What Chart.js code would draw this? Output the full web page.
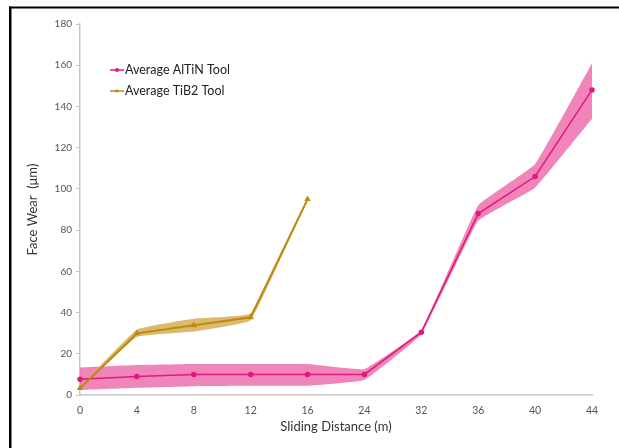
<!DOCTYPE html>
<html>
<head>
<meta charset="utf-8">
<script src="https://cdn.jsdelivr.net/npm/chart.js@4/dist/chart.umd.min.js"></script>
<style>
  html, body { margin: 0; padding: 0; background: #fff; }
  canvas { display: block; }
</style>
</head>
<body>
<canvas id="c" width="619" height="448"></canvas>
<script>
// Sliding distance (m)
const distances = ['0', '4', '8', '12', '16', '24', '32', '36', '40', '44'];
const yTicks = [0, 20, 40, 60, 80, 100, 120, 140, 160, 180];

// AlTiN tool: mean face wear and spread (µm)
const altinMean  = [7.6, 9, 10, 10, 10, 10, 30.5, 88, 106, 148];
const altinUpper = [13.3, 14.5, 15, 15, 15, 12.5, 31.5, 92, 112, 161];
const altinLower = [2.4, 3.5, 4.3, 4.5, 4.5, 7.3, 29.5, 84.5, 100.5, 134];

// TiB2 tool: mean face wear and spread (µm)
const tib2Mean  = [3.3, 29.9, 33.8, 37.7, 95, null, null, null, null, null];
const tib2Upper = [4, 31.8, 37, 39.5, 95.5, null, null, null, null, null];
const tib2Lower = [2.6, 28.2, 30.8, 36.3, 94.5, null, null, null, null, null];

const PINK = '#e0197d';
const PINK_BAND = 'rgba(236, 102, 167, 0.8)';
const GOLD = '#bd8a10';
const GOLD_BAND = 'rgba(213, 168, 72, 0.8)';
const FONT = 'Lato, "Open Sans", sans-serif';

// Thin black frame on the left and top edges
const framePlugin = {
  id: 'frame',
  beforeDraw(chart) {
    const ctx = chart.ctx;
    ctx.save();
    ctx.fillStyle = '#fff';
    ctx.fillRect(0, 0, chart.width, chart.height);
    ctx.fillStyle = '#000';
    ctx.fillRect(9, 6.5, chart.width - 9, 2);
    ctx.fillRect(9, 6.5, 2.5, chart.height - 6.5);
    ctx.restore();
  }
};

// Legend drawn inside the plot area, upper left
const insideLegend = {
  id: 'insideLegend',
  afterDraw(chart) {
    const ctx = chart.ctx;
    const items = [
      { text: 'Average AlTiN Tool', color: PINK, marker: 'circle', y: 70 },
      { text: 'Average TiB2 Tool', color: GOLD, marker: 'triangle', y: 91 }
    ];
    ctx.save();
    ctx.font = '12.5px ' + FONT;
    ctx.textBaseline = 'middle';
    for (const it of items) {
      ctx.strokeStyle = it.color;
      ctx.lineWidth = 1.5;
      ctx.beginPath();
      ctx.moveTo(110, it.y);
      ctx.lineTo(124, it.y);
      ctx.stroke();
      ctx.fillStyle = it.color;
      ctx.beginPath();
      if (it.marker === 'circle') {
        ctx.arc(117, it.y, 2, 0, Math.PI * 2);
      } else {
        ctx.moveTo(117, it.y - 2.2);
        ctx.lineTo(119.2, it.y + 1.3);
        ctx.lineTo(114.8, it.y + 1.3);
        ctx.closePath();
      }
      ctx.fill();
      ctx.fillStyle = '#222';
      ctx.fillText(it.text, 125, it.y);
    }
    ctx.restore();
  }
};

const bandBase = {
  borderWidth: 0,
  pointRadius: 0,
  pointHoverRadius: 0,
  tension: 0.08
};

new Chart(document.getElementById('c'), {
  type: 'line',
  data: {
    labels: distances,
    datasets: [
      { label: 'TiB2 mean', data: tib2Mean, borderColor: GOLD, backgroundColor: GOLD,
        borderWidth: 2, pointStyle: 'triangle', pointRadius: 1.8, fill: false, order: 0 },
      { label: 'AlTiN mean', data: altinMean, borderColor: PINK, backgroundColor: PINK,
        borderWidth: 1.5, pointStyle: 'circle', pointRadius: 2, fill: false, order: 1 },
      { ...bandBase, label: 'TiB2 upper', data: tib2Upper, borderColor: GOLD_BAND,
        backgroundColor: GOLD_BAND, fill: '+1', order: 2 },
      { ...bandBase, label: 'TiB2 lower', data: tib2Lower, borderColor: GOLD_BAND,
        backgroundColor: GOLD_BAND, fill: false, order: 2 },
      { ...bandBase, label: 'AlTiN upper', data: altinUpper, borderColor: PINK_BAND,
        backgroundColor: PINK_BAND, fill: '+1', order: 3 },
      { ...bandBase, label: 'AlTiN lower', data: altinLower, borderColor: PINK_BAND,
        backgroundColor: PINK_BAND, fill: false, order: 3 }
    ]
  },
  options: {
    responsive: false,
    animation: false,
    layout: { padding: { top: 24, right: 27, left: 0, bottom: 0 } },
    plugins: { legend: { display: false }, tooltip: { enabled: false } },
    elements: { line: { tension: 0 } },
    scales: {
      x: {
        type: 'category',
        offset: false,
        grid: { display: false, drawTicks: false },
        border: { display: true, color: '#c8c8c8', width: 1.5 },
        ticks: { color: '#555', font: { family: FONT, size: 10.5 }, padding: 9, maxRotation: 0, autoSkip: false },
        title: { display: true, text: 'Sliding Distance (m)', color: '#333',
                 font: { family: FONT, size: 13 }, padding: { top: 0, bottom: 13 } },
        afterFit(scale) { scale.height = 53; }
      },
      y: {
        min: 0, max: 180,
        afterBuildTicks(scale) { scale.ticks = yTicks.map(v => ({ value: v })); },
        grid: { display: true, drawOnChartArea: false, drawTicks: true, tickLength: 4, color: '#c8c8c8' },
        border: { display: true, color: '#c8c8c8', width: 1.5 },
        ticks: { color: '#555', font: { family: FONT, size: 10 }, padding: 4 },
        title: { display: true, text: 'Face Wear  (μm)', color: '#333',
                 font: { family: FONT, size: 13 }, padding: { top: 25, bottom: 0 } },
        afterFit(scale) { scale.width = 80; }
      }
    }
  },
  plugins: [framePlugin, insideLegend]
});
</script>
</body>
</html>
